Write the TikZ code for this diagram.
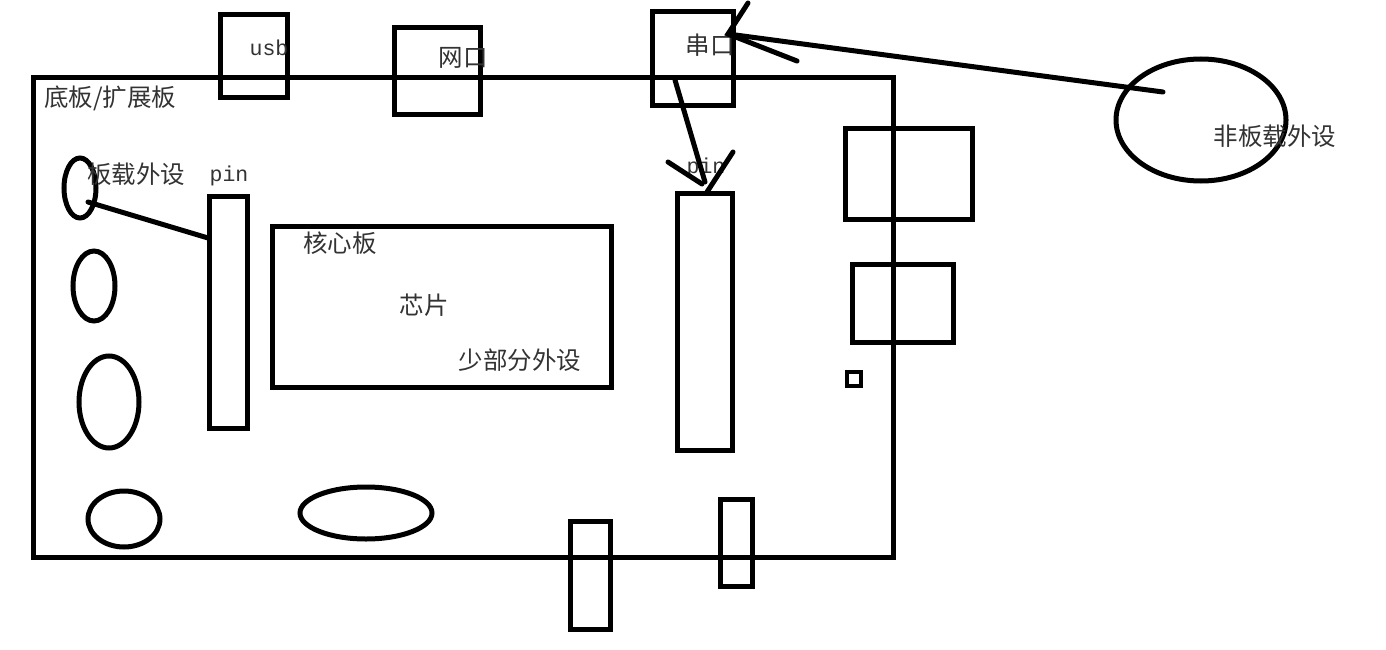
\documentclass[tikz,border=0pt]{standalone}
\usepackage{fontspec}
\usetikzlibrary{shapes.geometric}
\newfontfamily\cjk{Noto Sans CJK SC}
\newfontfamily\monof{Liberation Mono}
\begin{document}
\begin{tikzpicture}[x=1pt,y=-1pt,
  stroke/.style={line width=5pt,draw=black},
  box/.style={stroke,rectangle,inner sep=0pt},
  oval/.style={stroke,ellipse,inner sep=0pt},
  cn/.style={font=\cjk\fontsize{24.5}{24.5}\selectfont,text=black!80,inner sep=0pt},
  ln/.style={font=\monof\fontsize{21.5}{21.5}\selectfont,text=black!80,inner sep=0pt},
  wire/.style={line width=5pt,line cap=round}]
\useasboundingbox (0,0) rectangle (1386,650);
% base board
\node[box,minimum width=860pt,minimum height=480pt] (board) at (463,317.5) {};
% top connectors
\node[box,minimum width=67pt,minimum height=83pt] (usb) at (253.5,56.5) {};
\node[box,minimum width=86pt,minimum height=87pt] (eth) at (437,71.5) {};
\node[box,minimum width=81pt,minimum height=94pt] (uart) at (692.5,59) {};
% right connectors
\node[box,minimum width=127pt,minimum height=90pt] (r1) at (908.5,174) {};
\node[box,minimum width=101pt,minimum height=78pt] (r2) at (902.5,303) {};
\node[box,line width=4pt,minimum width=14pt,minimum height=14pt] (r3) at (854,379) {};
% bottom connectors
\node[box,minimum width=40pt,minimum height=108pt] (b1) at (590,575) {};
\node[box,minimum width=32pt,minimum height=87pt] (b2) at (736,542.5) {};
% pins
\node[box,minimum width=38pt,minimum height=232pt] (pin1) at (228,312) {};
\node[box,minimum width=55pt,minimum height=257pt] (pin2) at (704.5,321.5) {};
% core board
\node[box,minimum width=339pt,minimum height=161pt] (core) at (441.5,306.5) {};
% ovals
\node[oval,minimum width=32pt,minimum height=60pt] (e1) at (80,188) {};
\node[oval,minimum width=42pt,minimum height=70pt] (e2) at (94,286) {};
\node[oval,minimum width=60pt,minimum height=92pt] (e3) at (109,402) {};
\node[oval,minimum width=72pt,minimum height=56pt] (e4) at (124,519) {};
\node[oval,minimum width=132pt,minimum height=52pt] (e5) at (366,513) {};
\node[oval,minimum width=170pt,minimum height=122pt] (ext) at (1201,120) {};
% labels
\node[cn,anchor=west] (lboard) at (44,98) {底板/扩展板};
\node[ln] (lusb) at (269,48) {usb};
\node[cn] (leth) at (463,58) {网口};
\node[cn] (luart) at (710,45) {串口};
\node[cn] (lonb) at (136,174) {板载外设};
\node[ln] (lpin1) at (229,176) {pin};
\node[ln] (lpin2) at (706,168) {pin};
\node[cn] (lcore) at (340,243) {核心板};
\node[cn] (lchip) at (424,305) {芯片};
\node[cn] (lperi) at (520,360) {少部分外设};
\node[cn] (lext) at (1275,136) {非板载外设};
% connector: onboard peripheral to pin
\coordinate (c1) at (88,202);
\coordinate (c2) at (208,238);
\draw[wire] (c1) -- (c2);
% arrow: external peripheral to serial port
\coordinate (s0) at (1163,92);
\coordinate (s1) at (728,34);
\coordinate (s2) at (748,3);
\coordinate (s3) at (797,61);
\draw[wire] (s0) -- (s1);
\draw[wire] (s2) -- (s1) -- (s3);
% arrow: serial port to pin
\coordinate (p0) at (675,80);
\coordinate (p1) at (705,182);
\coordinate (p2) at (668,162);
\coordinate (p3) at (702,184);
\coordinate (p4) at (733,152);
\coordinate (p5) at (707,192);
\draw[wire] (p0) -- (p1);
\draw[wire] (p2) -- (p3);
\draw[wire] (p4) -- (p5);
\end{tikzpicture}
\end{document}
